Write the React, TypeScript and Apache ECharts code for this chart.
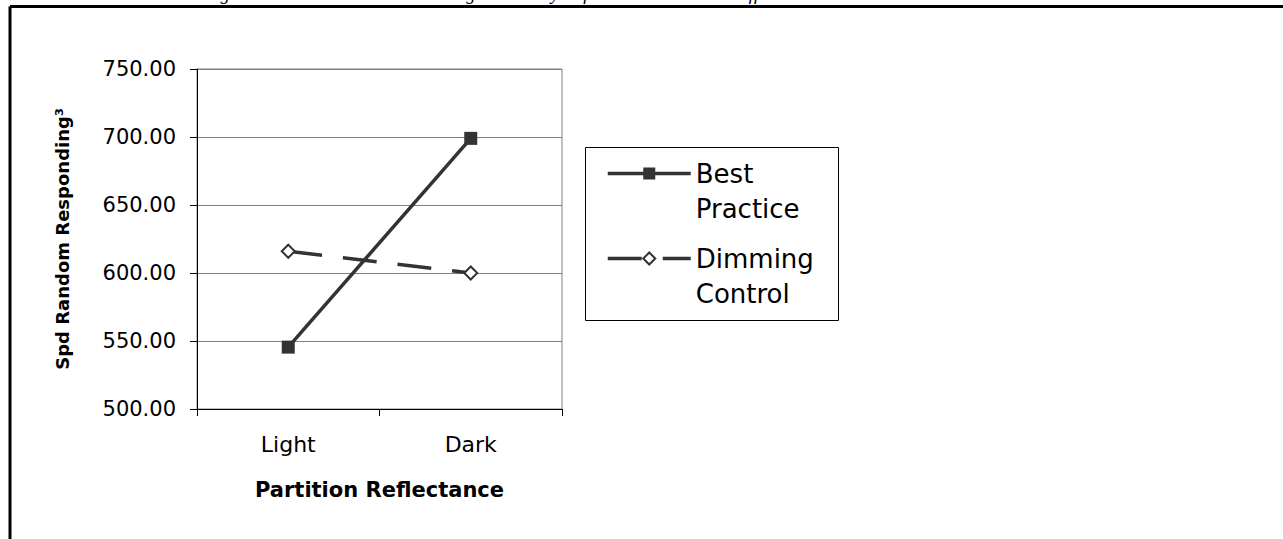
import React, { useEffect, useRef } from "react";
import * as echarts from "echarts";

const categories = ["Light", "Dark"];
const seriesNames = ["Best\nPractice", "Dimming\nControl"];
const bestPractice = [545.5, 699];
const dimmingControl = [616, 600];
const yMin = 500;
const yMax = 750;
const yStep = 50;
const captionText =
  "Figure 8: Best Practice vs. Dimming Control by Reflectance interaction effect on activation";

export default function App() {
  const ref = useRef<HTMLDivElement>(null);
  useEffect(() => {
    if (!ref.current) return;
    const chart = echarts.init(ref.current, undefined, { renderer: "svg" });
    const font = "DejaVu Sans";
    chart.setOption({
      animation: false,
      backgroundColor: "#ffffff",
      grid: {
        left: 197,
        top: 69,
        width: 365,
        height: 340,
        show: true,
        borderColor: "#808080",
        borderWidth: 1,
        backgroundColor: "transparent",
      },
      xAxis: {
        type: "category",
        data: categories,
        boundaryGap: true,
        name: "Partition Reflectance",
        nameLocation: "middle",
        nameGap: 70,
        nameTextStyle: { fontFamily: font, fontSize: 21, fontWeight: "bold", color: "#000" },
        axisLine: { lineStyle: { color: "#000", width: 1 } },
        axisTick: { show: true, length: 7, lineStyle: { color: "#000" } },
        axisLabel: { fontFamily: font, fontSize: 22, color: "#000", margin: 24 },
        splitLine: { show: false },
      },
      yAxis: {
        type: "value",
        min: yMin,
        max: yMax,
        interval: yStep,
        name: "Spd Random Responding³",
        nameLocation: "middle",
        nameRotate: 90,
        nameGap: 126,
        nameTextStyle: { fontFamily: font, fontSize: 18, fontWeight: "bold", color: "#000" },
        axisLine: { show: true, lineStyle: { color: "#000", width: 1 } },
        axisTick: { show: true, length: 7, lineStyle: { color: "#000" } },
        axisLabel: {
          fontFamily: font,
          fontSize: 21,
          color: "#000",
          margin: 21,
          formatter: (v: number) => v.toFixed(2),
        },
        splitLine: { show: true, lineStyle: { color: "#808080", width: 1 } },
      },
      legend: {
        orient: "vertical",
        left: 606,
        top: 121,
        padding: 0,
        itemWidth: 83,
        itemHeight: 15,
        itemGap: -20,
        borderWidth: 0,
        data: seriesNames,
        formatter: (name: string) => "\n" + name,
        lineStyle: { width: 3.5 },
        textStyle: {
          fontFamily: font,
          fontSize: 26,
          lineHeight: 35,
          color: "#000",
        },
      },
      graphic: [
        {
          type: "rect",
          shape: { x: 585.5, y: 147.5, width: 253, height: 173 },
          style: { fill: "transparent", stroke: "#000", lineWidth: 1 },
          silent: true,
        },
        {
          type: "line",
          shape: { x1: 10, y1: 6.5, x2: 1290, y2: 6.5 },
          style: { stroke: "#000", lineWidth: 3 },
          silent: true,
        },
        {
          type: "line",
          shape: { x1: 10, y1: 6.5, x2: 10, y2: 545 },
          style: { stroke: "#000", lineWidth: 3 },
          silent: true,
        },
        {
          type: "text",
          x: 204,
          y: 3,
          style: {
            text: captionText,
            fontFamily: "Liberation Serif",
            fontStyle: "italic",
            fontSize: 18.5,
            fill: "#000",
            verticalAlign: "bottom",
          },
          silent: true,
        },
      ],
      series: [
        {
          name: seriesNames[0],
          type: "line",
          data: bestPractice,
          symbol: "rect",
          symbolSize: 13,
          lineStyle: { color: "#333333", width: 3.5, type: "solid" },
          itemStyle: { color: "#333333", borderColor: "#333333", borderWidth: 0 },
        },
        {
          name: seriesNames[1],
          type: "line",
          data: dimmingControl,
          symbol: "diamond",
          symbolSize: 13,
          lineStyle: { color: "#333333", width: 3.5, type: [34, 21] },
          itemStyle: { color: "#ffffff", borderColor: "#333333", borderWidth: 2 },
        },
      ],
    });
    return () => chart.dispose();
  }, []);
  return (
    <div
      ref={ref}
      style={{ position: "fixed", left: 0, top: 0, width: 1283, height: 539, background: "#fff" }}
    />
  );
}
